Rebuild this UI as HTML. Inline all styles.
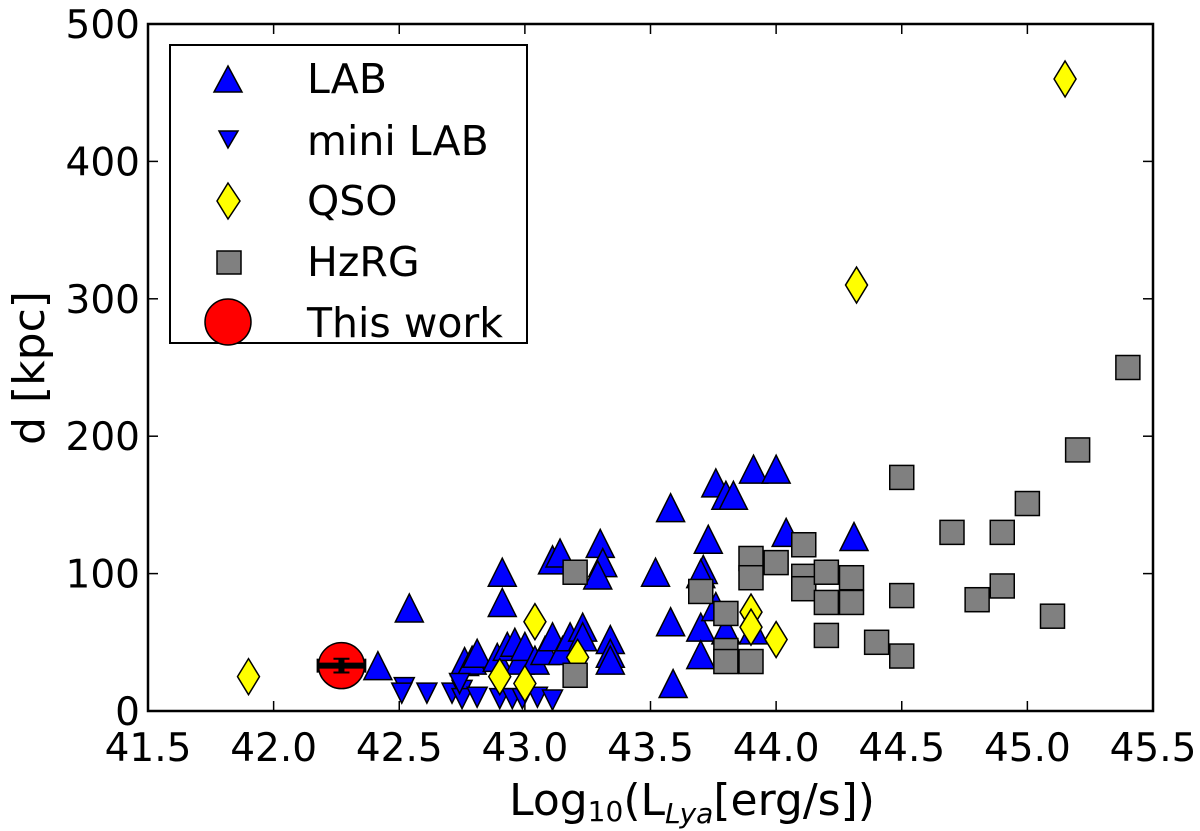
<!DOCTYPE html>
<html><head><meta charset="utf-8"><style>
body{margin:0;background:#fff}
svg{display:block;font-family:"DejaVu Sans","Liberation Sans",sans-serif}
</style></head><body>
<svg id="chart" width="1200" height="831" viewBox="0 0 1200 831">
<g id="marks"></g>
<g id="axes"></g>
</svg>
<script>
const xTicks=[41.5,42.0,42.5,43.0,43.5,44.0,44.5,45.0,45.5];
const yTicks=[0,100,200,300,400,500];
const labX=[42.415,42.54,42.91,42.91,43.11,43.14,43.30,43.31,43.29,43.52,43.58,43.58,43.59,43.73,43.71,43.70,43.76,43.80,43.83,43.91,44.00,44.04,44.31,43.70,43.70,43.76,43.80,43.91,42.76,42.79,42.81,42.89,42.93,42.96,42.98,43.00,43.04,43.08,43.11,43.15,43.18,43.23,43.23,43.34,43.34,43.34];
const labD=[33,75,101,79,110,115,122,108,99,101,148,65,20,125,103,100,166,157,157,176,176,130,127,61,41,76,59,59,36,37,42,39,47,50,37,47,37,44,54,44,54,61,54,52,42,37];
const miniX=[42.52,42.51,42.61,42.71,42.75,42.75,42.81,42.90,42.95,42.99,43.05,43.11,42.74];
const miniD=[17,13,13,13,15,9,10,9,9,9,10,8,20];
const qsoX=[41.90,43.04,42.90,43.00,43.21,43.90,43.90,44.00,45.15,44.32];
const qsoD=[25,65,25,20,39,72,61,52,460,310];
const hzX=[43.2,43.2,43.70,43.90,43.90,44.00,44.11,44.11,44.11,44.20,44.20,44.30,44.30,44.20,44.40,44.50,44.50,44.50,43.80,43.80,43.80,43.90,44.7,44.9,45.0,44.8,44.9,45.1,45.2,45.4];
const hzD=[101,26,87,111,97,108,121,98,89,101,79,97,79,55,50,170,84,40,71,44,36,36,130,130,151,81,91,69,190,250];
const thisX=[42.27];
const thisD=[33];
const thisXerr=[0.095];
const thisDerr=[5];

const X0=148,X1=1153,Y0=711,Y1=24;
function sx(v){return X0+(v-41.5)/4*(X1-X0);}
function sy(d){return Y0-d/500*(Y0-Y1);}
const NS="http://www.w3.org/2000/svg";
const marks=document.getElementById('marks');
const axes=document.getElementById('axes');
function mk(tag,attrs,parent){const e=document.createElementNS(NS,tag);for(const k in attrs)e.setAttribute(k,attrs[k]);parent.appendChild(e);return e;}
function tri(cx,cy,w,h,up){return up?`${cx},${cy-h/2} ${cx-w/2},${cy+h/2} ${cx+w/2},${cy+h/2}`:`${cx},${cy+h/2} ${cx-w/2},${cy-h/2} ${cx+w/2},${cy-h/2}`;}
labX.forEach((v,i)=>{const p=mk('polygon',{points:tri(sx(v),sy(labD[i]),28,28,true),fill:'#0000ff',stroke:'#000','stroke-width':1.5},marks);

});
miniX.forEach((v,i)=>{const p=mk('polygon',{points:tri(sx(v),sy(miniD[i]),20,20,false),fill:'#0000ff',stroke:'#000','stroke-width':1.5},marks);

});
qsoX.forEach((v,i)=>{const cx=sx(v),cy=sy(qsoD[i]);const p=mk('polygon',{points:`${cx},${cy-18} ${cx+11},${cy} ${cx},${cy+18} ${cx-11},${cy}`,fill:'#ffff00',stroke:'#000','stroke-width':1.5},marks);

});
hzX.forEach((v,i)=>{const cx=sx(v),cy=sy(hzD[i]);const p=mk('rect',{x:cx-12,y:cy-12,width:24,height:24,fill:'#808080',stroke:'#000','stroke-width':1.5},marks);

});
thisX.forEach((v,i)=>{const cx=sx(v),cy=sy(thisD[i]);
const c=mk('circle',{cx:cx,cy:cy,r:23,fill:'#ff0000',stroke:'#000','stroke-width':1.5},marks);


const ex0=sx(v-thisXerr[i]),ex1=sx(v+thisXerr[i]);
const e1=mk('line',{x1:ex0,y1:cy,x2:ex1,y2:cy,stroke:'#000','stroke-width':6},marks);


const e2=mk('line',{x1:cx,y1:sy(thisD[i]-thisDerr[i]),x2:cx,y2:sy(thisD[i]+thisDerr[i]),stroke:'#000','stroke-width':6},marks);


mk('line',{x1:cx-8,y1:sy(thisD[i]-thisDerr[i]),x2:cx+8,y2:sy(thisD[i]-thisDerr[i]),stroke:'#000','stroke-width':2},marks);
mk('line',{x1:cx-8,y1:sy(thisD[i]+thisDerr[i]),x2:cx+8,y2:sy(thisD[i]+thisDerr[i]),stroke:'#000','stroke-width':2},marks);
mk('line',{x1:ex0,y1:cy-7,x2:ex0,y2:cy+7,stroke:'#000','stroke-width':2},marks);
mk('line',{x1:ex1,y1:cy-7,x2:ex1,y2:cy+7,stroke:'#000','stroke-width':2},marks);
});
const fr=mk('rect',{x:X0,y:Y1,width:X1-X0,height:Y0-Y1,fill:'none',stroke:'#000','stroke-width':2.5},axes);


xTicks.forEach(t=>{const x=sx(t);
mk('line',{x1:x,y1:Y0,x2:x,y2:Y0-10,stroke:'#000','stroke-width':1.5},axes);
mk('line',{x1:x,y1:Y1,x2:x,y2:Y1+10,stroke:'#000','stroke-width':1.5},axes);
const tx=mk('text',{x:x,y:Y0+50,'text-anchor':'middle','font-size':39},axes);tx.textContent=t.toFixed(1);

});
yTicks.forEach(t=>{const y=sy(t);
mk('line',{x1:X0,y1:y,x2:X0+10,y2:y,stroke:'#000','stroke-width':1.5},axes);
mk('line',{x1:X1,y1:y,x2:X1-10,y2:y,stroke:'#000','stroke-width':1.5},axes);
const tx=mk('text',{x:X0-8,y:y+14,'text-anchor':'end','font-size':39},axes);tx.textContent=t;

});
</script>
<svg width="1200" height="831" style="position:absolute;left:0;top:0">
<text x="44" y="368" transform="rotate(-90 44 368)" text-anchor="middle" font-size="44" font-family="DejaVu Sans,Liberation Sans,sans-serif">d [kpc]</text>
<text x="692" y="815" text-anchor="middle" font-size="44" font-family="DejaVu Sans,Liberation Sans,sans-serif">Log<tspan font-size="28" dy="6">10</tspan><tspan dy="-6">(L</tspan><tspan font-size="28" font-style="italic" dy="8">Lya</tspan><tspan dy="-8">[erg/s])</tspan></text>
<g font-family="DejaVu Sans,Liberation Sans,sans-serif" font-size="41">
<rect x="170" y="45" width="357" height="298" fill="#fff" stroke="#000" stroke-width="2"/>
<polygon points="228,66 214,92 242,92" fill="#0000ff" stroke="#000" stroke-width="1.5"/>
<text x="307" y="93">LAB</text>
<polygon points="228,148 219,131 238,131" fill="#0000ff" stroke="#000" stroke-width="1.5"/>
<text x="307" y="155">mini LAB</text>
<polygon points="228,183 240,201 228,219 217,201" fill="#ffff00" stroke="#000" stroke-width="1.5"/>
<text x="307" y="215">QSO</text>
<rect x="217" y="251" width="24" height="23" fill="#808080" stroke="#000" stroke-width="1.5"/>
<text x="307" y="276">HzRG</text>
<circle cx="228" cy="322" r="23" fill="#ff0000" stroke="#000" stroke-width="1.5"/>
<text x="307" y="337">This work</text>
</g>
</svg>
</body></html>
